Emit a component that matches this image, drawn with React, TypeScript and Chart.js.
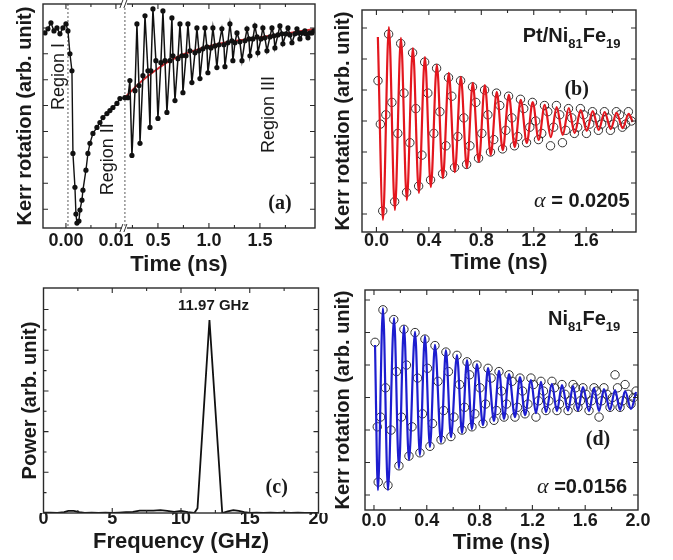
import { useEffect, useRef } from "react";
import { Chart, registerables } from "chart.js";

Chart.register(...registerables);

const W = 673;
const H = 560;
const SANS = "'Liberation Sans', Arial, Helvetica, sans-serif";
const SERIF = "'Liberation Serif', 'Times New Roman', serif";
const TICK_SIZE = 18;
const X_TITLE_SIZE = 22;
const Y_TITLE_SIZE = 20;
const INK = "#1a1a1a";

// ---------------- Panel (a) : broken time axis ----------------
// fast segment (Regions I & II), real time in ns
const A_FAST_T = [-0.0042, -0.0036, -0.003, -0.0024, -0.0018, -0.0012, -0.0006, 0.0, 0.0004, 0.0008, 0.0012, 0.0014, 0.0018, 0.002, 0.0022, 0.0026, 0.0028, 0.0032, 0.0034, 0.004, 0.0044, 0.0048, 0.0054, 0.0062, 0.0068, 0.0074, 0.0082, 0.0088, 0.0094, 0.0102, 0.0108, 0.0118];
const A_FAST_V = [87.1, 88.9, 91.6, 88.0, 89.3, 86.7, 89.3, 91.1, 88.0, 77.8, 70.2, 33.3, 18.2, 6.2, 2.2, 3.1, 8.0, 12.4, 16.9, 25.8, 33.3, 37.8, 42.2, 44.9, 47.1, 49.3, 51.1, 52.4, 53.8, 55.6, 57.8, 58.2];
// slow segment (Region III), time in ns
const A_SLOW_T = [0.206, 0.225, 0.245, 0.275, 0.294, 0.314, 0.324, 0.353, 0.373, 0.402, 0.422, 0.431, 0.451, 0.48, 0.5, 0.529, 0.549, 0.569, 0.588, 0.618, 0.637, 0.647, 0.667, 0.696, 0.716, 0.735, 0.745, 0.775, 0.794, 0.814, 0.833, 0.863, 0.882, 0.902, 0.912, 0.941, 0.961, 0.98, 0.99, 1.02, 1.039, 1.059, 1.078, 1.098, 1.127, 1.147, 1.157, 1.186, 1.206, 1.225, 1.235, 1.255, 1.275, 1.304, 1.324, 1.353, 1.373, 1.392, 1.402, 1.431, 1.451, 1.471, 1.48, 1.51, 1.529, 1.549, 1.569, 1.598, 1.618, 1.637, 1.647, 1.676, 1.696, 1.716, 1.725, 1.755, 1.775, 1.794, 1.814, 1.843, 1.863, 1.882, 1.892, 1.922, 1.941, 1.951, 1.971, 1.99, 2.01, 2.029];
const A_SLOW_V = [58.2, 65.8, 32.4, 61.3, 91.1, 63.6, 37.8, 68.0, 94.7, 70.2, 44.9, 70.2, 97.8, 74.7, 48.9, 73.8, 96.9, 74.7, 51.6, 74.7, 93.8, 76.9, 56.9, 75.6, 91.1, 76.9, 60.4, 76.9, 91.1, 79.1, 64.9, 78.2, 89.3, 79.1, 66.7, 80.0, 89.3, 80.9, 69.3, 80.4, 89.3, 81.3, 71.6, 81.8, 88.9, 81.8, 72.0, 82.7, 91.1, 83.6, 74.7, 82.7, 87.1, 83.1, 74.7, 83.6, 88.9, 84.4, 76.9, 84.4, 90.2, 85.3, 78.2, 84.4, 89.3, 84.9, 79.1, 85.3, 89.3, 85.8, 80.4, 86.2, 90.2, 86.7, 82.2, 86.7, 89.3, 86.2, 82.7, 86.7, 88.9, 87.1, 84.4, 87.1, 88.0, 86.7, 84.9, 87.1, 87.1, 88.0];
const A_FIT_T = [0.176, 0.324, 0.471, 0.618, 0.765, 0.912, 1.059, 1.206, 1.402, 1.598, 1.794, 2.039];
const A_FIT_V = [58.2, 64.9, 70.2, 74.7, 77.8, 80.0, 81.8, 83.1, 84.4, 85.8, 87.1, 88.9];
const A_FAST_TICKS = [0.0, 0.01];
const A_FAST_LABELS = ["0.00", "0.01"];
const A_FAST_MINOR = [0.005];
const A_SLOW_TICKS = [0.5, 1.0, 1.5];
const A_SLOW_LABELS = ["0.5", "1.0", "1.5"];
const A_SLOW_MINOR = [0.25, 0.75, 1.25, 1.75];
const A_Y_TICKS = [8.4, 20.0, 31.6, 43.1, 54.7, 66.2, 77.8, 89.3];
const A_PUMP_T = 0.0004;
const A_BREAK = 0.176; // axis position of the "//" break
const A_FAST_ORIGIN = -0.402; // axis position of fast-segment t = 0
const A_FAST_GAIN = 49.0; // axis units per ns in the fast segment
const fastToAxis = (t: number) => A_FAST_ORIGIN + t * A_FAST_GAIN;

// ---------------- Panel (b) : Pt/Ni81Fe19 ----------------
const B_FIT_T = [0.011, 0.05, 0.095, 0.141, 0.187, 0.232, 0.278, 0.324, 0.37, 0.415, 0.461, 0.507, 0.552, 0.598, 0.644, 0.69, 0.735, 0.781, 0.827, 0.872, 0.918, 0.964, 1.01, 1.055, 1.101, 1.147, 1.192, 1.238, 1.284, 1.33, 1.375, 1.421, 1.467, 1.512, 1.558, 1.604, 1.65, 1.695, 1.741, 1.787, 1.832, 1.878, 1.924, 1.954];
const B_FIT_V = [5.71, -0.19, 6.03, 0.13, 5.68, 0.45, 5.35, 0.68, 5.06, 0.87, 4.81, 1.16, 4.55, 1.35, 4.42, 1.48, 4.23, 1.68, 4.16, 1.9, 3.94, 2.06, 3.84, 2.16, 3.68, 2.29, 3.61, 2.39, 3.52, 2.48, 3.45, 2.55, 3.42, 2.61, 3.35, 2.68, 3.32, 2.71, 3.29, 2.74, 3.26, 2.77, 3.23, 2.97];
const B_DATA_T = [0.012, 0.03, 0.048, 0.072, 0.093, 0.118, 0.139, 0.163, 0.185, 0.21, 0.23, 0.255, 0.276, 0.3, 0.322, 0.347, 0.368, 0.392, 0.413, 0.438, 0.459, 0.484, 0.505, 0.53, 0.55, 0.575, 0.596, 0.621, 0.642, 0.667, 0.688, 0.713, 0.733, 0.758, 0.779, 0.804, 0.825, 0.85, 0.87, 0.895, 0.916, 0.941, 0.962, 0.987, 1.008, 1.033, 1.053, 1.078, 1.099, 1.124, 1.145, 1.17, 1.19, 1.215, 1.236, 1.261, 1.282, 1.307, 1.328, 1.352, 1.373, 1.398, 1.419, 1.444, 1.465, 1.49, 1.51, 1.535, 1.556, 1.581, 1.602, 1.627, 1.648, 1.673, 1.693, 1.718, 1.739, 1.764, 1.785, 1.81, 1.83, 1.855, 1.876, 1.9, 1.922, 1.945];
const B_DATA_V = [4.3, 2.9, 0.1, 3.2, 5.8, 3.6, 0.4, 2.6, 5.5, 3.9, 0.7, 2.3, 5.2, 3.4, 0.9, 1.9, 4.9, 3.9, 1.1, 2.6, 4.7, 3.3, 1.3, 2.2, 4.4, 3.8, 1.5, 2.5, 4.3, 3.1, 1.6, 2.2, 4.1, 3.6, 1.8, 2.6, 4.0, 3.2, 2.0, 2.4, 3.9, 3.5, 2.1, 2.7, 3.8, 3.1, 2.2, 2.5, 3.7, 3.4, 2.3, 2.8, 3.6, 3.0, 2.4, 2.6, 3.5, 3.3, 2.2, 2.8, 3.5, 3.2, 2.3, 2.7, 3.4, 3.1, 2.6, 2.8, 3.4, 3.2, 2.6, 2.9, 3.3, 3.1, 2.7, 2.9, 3.3, 3.1, 2.7, 2.9, 3.3, 3.2, 2.8, 2.9, 3.3, 3.0];
const B_X_TICKS = [0, 0.4, 0.8, 1.2, 1.6];
const B_X_LABELS = ["0.0", "0.4", "0.8", "1.2", "1.6"];
const B_X_MINOR = [0.2, 0.6, 1.0, 1.4, 1.8];
const B_Y_TICKS = [0, 1, 2, 3, 4, 5, 6];

// ---------------- Panel (c) : FFT power spectrum ----------------
const C_FREQ = [0, 0.5, 1.0, 1.5, 1.8, 2.2, 2.6, 3.0, 3.5, 4.0, 4.5, 5.0, 5.5, 6.0, 6.5, 7.0, 7.5, 8.0, 8.5, 9.0, 9.5, 10.0, 10.5, 10.97, 11.2, 12.07, 13.0, 13.4, 13.8, 14.2, 14.6, 15.0, 15.5, 16.0, 16.5, 17.0, 17.5, 18.0, 18.5, 19.0, 19.5, 20.0];
const C_POWER = [0.01, 0.01, 0.0, 0.02, 0.05, 0.05, 0.02, 0.0, 0.01, 0.0, 0.01, 0.0, 0.01, 0.02, 0.03, 0.06, 0.06, 0.06, 0.07, 0.05, 0.03, 0.05, 0.02, 0.0, 0.12, 4.74, 0.0, 0.04, 0.07, 0.05, 0.02, 0.0, 0.01, 0.0, 0.01, 0.0, 0.01, 0.0, 0.01, 0.0, 0.0, 0.0];
const C_X_TICKS = [0, 5, 10, 15, 20];
const C_X_LABELS = ["0", "5", "10", "15", "20"];
const C_X_MINOR = [2.5, 7.5, 12.5, 17.5];
const C_Y_TICKS = [1, 2, 3, 4, 5];
const C_Y_MINOR = [0.5, 1.5, 2.5, 3.5, 4.5];
const C_PEAK_LABEL = "11.97 GHz";

// ---------------- Panel (d) : Ni81Fe19 ----------------
const D_FIT_T = [0.008, 0.03, 0.068, 0.106, 0.152, 0.189, 0.227, 0.265, 0.311, 0.348, 0.386, 0.424, 0.462, 0.508, 0.545, 0.583, 0.629, 0.667, 0.705, 0.742, 0.78, 0.826, 0.864, 0.909, 0.947, 0.985, 1.023, 1.068, 1.106, 1.144, 1.189, 1.227, 1.265, 1.303, 1.348, 1.386, 1.424, 1.47, 1.508, 1.545, 1.583, 1.629, 1.667, 1.705, 1.742, 1.788, 1.826, 1.864, 1.902, 1.947, 1.985];
const D_FIT_V = [4.62, 0.15, 5.75, 0.15, 5.45, 0.83, 5.2, 1.08, 5.02, 1.23, 4.89, 1.48, 4.62, 1.63, 4.46, 1.78, 4.31, 1.91, 4.15, 2.03, 4.03, 2.15, 3.91, 2.28, 3.82, 2.34, 3.72, 2.4, 3.63, 2.46, 3.54, 2.52, 3.48, 2.55, 3.42, 2.58, 3.38, 2.6, 3.35, 2.6, 3.32, 2.58, 3.29, 2.58, 3.26, 2.62, 3.23, 2.62, 3.2, 2.65, 3.17];
const D_DATA_T = [0.008, 0.025, 0.032, 0.05, 0.068, 0.087, 0.106, 0.129, 0.15, 0.17, 0.189, 0.208, 0.227, 0.246, 0.265, 0.288, 0.311, 0.33, 0.348, 0.367, 0.386, 0.405, 0.424, 0.443, 0.462, 0.485, 0.508, 0.527, 0.545, 0.564, 0.583, 0.606, 0.629, 0.648, 0.667, 0.686, 0.705, 0.724, 0.742, 0.764, 0.78, 0.803, 0.826, 0.845, 0.864, 0.887, 0.909, 0.928, 0.947, 0.966, 0.985, 1.004, 1.023, 1.046, 1.068, 1.087, 1.106, 1.125, 1.144, 1.166, 1.189, 1.208, 1.227, 1.246, 1.265, 1.284, 1.303, 1.325, 1.348, 1.367, 1.386, 1.405, 1.424, 1.447, 1.47, 1.489, 1.508, 1.527, 1.545, 1.564, 1.583, 1.606, 1.629, 1.648, 1.667, 1.686, 1.705, 1.724, 1.742, 1.765, 1.788, 1.807, 1.826, 1.845, 1.864, 1.883, 1.902, 1.925, 1.947, 1.966, 1.985];
const D_DATA_V = [4.7, 2.1, 0.4, 2.4, 5.7, 3.3, 0.3, 2.0, 5.4, 3.8, 0.9, 2.4, 5.1, 4.0, 1.2, 2.1, 5.0, 3.6, 1.3, 2.5, 4.8, 3.9, 1.5, 2.2, 4.6, 3.5, 1.7, 2.6, 4.4, 3.8, 1.8, 2.4, 4.3, 3.4, 2.0, 2.7, 4.1, 3.7, 2.1, 2.5, 4.0, 3.3, 2.2, 2.8, 3.9, 3.6, 2.3, 2.6, 3.8, 3.2, 2.4, 2.8, 3.7, 3.5, 2.4, 2.7, 3.6, 3.2, 2.5, 2.8, 3.6, 3.4, 2.4, 2.9, 3.5, 3.2, 2.6, 2.9, 3.5, 3.3, 2.6, 2.8, 3.4, 3.1, 2.6, 2.9, 3.4, 3.3, 2.7, 2.9, 3.3, 3.1, 2.6, 2.9, 3.3, 3.2, 2.4, 2.9, 3.3, 3.1, 2.7, 3.0, 3.7, 3.3, 2.7, 2.9, 3.4, 3.1, 2.8, 3.0, 3.2];
const D_X_TICKS = [0, 0.4, 0.8, 1.2, 1.6, 2.0];
const D_X_LABELS = ["0.0", "0.4", "0.8", "1.2", "1.6", "2.0"];
const D_X_MINOR = [0.2, 0.6, 1.0, 1.4, 1.8];
const D_Y_TICKS = [0, 1, 2, 3, 4, 5, 6];

const KERR_TITLE = "Kerr rotation (arb. unit)";
const TIME_TITLE = "Time (ns)";

// ---------------- helpers ----------------
const pts = (xs: number[], ys: number[], fx: (v: number) => number = (v) => v) =>
  xs.map((x, i) => ({ x: fx(x), y: ys[i] }));

function framePlugin(xMinor: number[], yMinor: number[]) {
  return {
    id: "frame",
    afterDatasetsDraw(chart: any) {
      const { ctx, chartArea: a } = chart;
      const xs = chart.scales.x;
      const ys = chart.scales.y;
      ctx.save();
      ctx.strokeStyle = "#2a2a2a";
      ctx.lineWidth = 1.1;
      ctx.beginPath();
      const xt = (vals: number[], len: number) =>
        vals.forEach((v) => {
          const p = xs.getPixelForValue(v);
          if (p <= a.left + 1 || p >= a.right - 1) return;
          ctx.moveTo(p, a.bottom);
          ctx.lineTo(p, a.bottom - len);
          ctx.moveTo(p, a.top);
          ctx.lineTo(p, a.top + len);
        });
      const yt = (vals: number[], len: number) =>
        vals.forEach((v) => {
          const p = ys.getPixelForValue(v);
          if (p <= a.top + 1 || p >= a.bottom - 1) return;
          ctx.moveTo(a.left, p);
          ctx.lineTo(a.left + len, p);
          ctx.moveTo(a.right, p);
          ctx.lineTo(a.right - len, p);
        });
      xt(xs.ticks.map((t: any) => t.value), 5);
      xt(xMinor, 3);
      yt(ys.ticks.map((t: any) => t.value), 5);
      yt(yMinor, 3);
      ctx.stroke();
      ctx.lineWidth = 1.4;
      ctx.strokeRect(a.left, a.top, a.right - a.left, a.bottom - a.top);
      ctx.restore();
    },
  };
}

type Part = { text: string; font: string; dy?: number };
type Note = { x: number; y: number; parts: Part[]; align?: string; baseline?: string; rotate?: number };

function notesPlugin(notes: Note[]) {
  return {
    id: "notes",
    afterDraw(chart: any) {
      const { ctx } = chart;
      const xs = chart.scales.x;
      const ys = chart.scales.y;
      notes.forEach((n) => {
        ctx.save();
        ctx.translate(xs.getPixelForValue(n.x), ys.getPixelForValue(n.y));
        if (n.rotate) ctx.rotate((n.rotate * Math.PI) / 180);
        ctx.textBaseline = n.baseline || "middle";
        ctx.textAlign = "left";
        ctx.fillStyle = INK;
        const widths = n.parts.map((p) => {
          ctx.font = p.font;
          return ctx.measureText(p.text).width;
        });
        const total = widths.reduce((s, w) => s + w, 0);
        let cx = n.align === "left" ? 0 : n.align === "right" ? -total : -total / 2;
        n.parts.forEach((p, i) => {
          ctx.font = p.font;
          ctx.fillText(p.text, cx, p.dy || 0);
          cx += widths[i];
        });
        ctx.restore();
      });
    },
  };
}

function breakPlugin(dotted: number[], brk: number) {
  return {
    id: "breaks",
    beforeDatasetsDraw(chart: any) {
      const { ctx, chartArea: a } = chart;
      const xs = chart.scales.x;
      ctx.save();
      ctx.strokeStyle = "#777";
      ctx.lineWidth = 1.2;
      ctx.setLineDash([2, 2]);
      dotted.forEach((v) => {
        const p = xs.getPixelForValue(v);
        ctx.beginPath();
        ctx.moveTo(p, a.top);
        ctx.lineTo(p, a.bottom);
        ctx.stroke();
      });
      ctx.restore();
    },
    afterDraw(chart: any) {
      const { ctx, chartArea: a } = chart;
      const p = chart.scales.x.getPixelForValue(brk);
      ctx.save();
      [a.top, a.bottom].forEach((y: number) => {
        ctx.fillStyle = "#fff";
        ctx.fillRect(p - 3, y - 2, 5, 4);
        ctx.strokeStyle = "#333";
        ctx.lineWidth = 1;
        ctx.beginPath();
        ctx.moveTo(p - 5, y + 4);
        ctx.lineTo(p - 2, y - 4);
        ctx.moveTo(p - 1, y + 4);
        ctx.lineTo(p + 2, y - 4);
        ctx.stroke();
      });
      ctx.restore();
    },
  };
}

type Spec = {
  area: { left: number; top: number; right: number; bottom: number };
  yTitleX: number;
  tickLabelY: number;
  xTitleY: number;
  x: { min: number; max: number; ticks: number[]; labels: string[]; minor: number[]; title: string };
  y: { min: number; max: number; ticks: number[]; minor: number[]; title: string };
  datasets: any[];
  plugins: any[];
};

function makeConfig(s: Spec): any {
  const padLeft = s.yTitleX - Y_TITLE_SIZE * 0.6;
  const yWidth = s.area.left - padLeft;
  const tickPad = s.tickLabelY - s.area.bottom - TICK_SIZE * 0.6;
  const xHeight = s.xTitleY + X_TITLE_SIZE * 0.6 - s.area.bottom;
  return {
    type: "line",
    data: { datasets: s.datasets },
    options: {
      responsive: false,
      animation: false,
      events: [],
      layout: {
        padding: {
          left: padLeft,
          top: s.area.top,
          right: W - s.area.right,
          bottom: H - s.area.bottom - xHeight,
        },
      },
      plugins: { legend: { display: false }, tooltip: { enabled: false }, title: { display: false } },
      scales: {
        x: {
          type: "linear",
          position: "bottom",
          min: s.x.min,
          max: s.x.max,
          afterBuildTicks: (sc: any) => {
            sc.ticks = s.x.ticks.map((v) => ({ value: v }));
          },
          afterFit: (sc: any) => {
            sc.height = xHeight;
          },
          grid: { display: false, drawTicks: false },
          border: { display: false },
          ticks: {
            autoSkip: false,
            maxRotation: 0,
            padding: tickPad,
            color: INK,
            font: { family: SANS, size: TICK_SIZE, weight: "bold" },
            callback: (_v: any, i: number) => s.x.labels[i],
          },
          title: {
            display: true,
            text: s.x.title,
            color: INK,
            padding: 0,
            font: { family: SANS, size: X_TITLE_SIZE, weight: "bold" },
          },
        },
        y: {
          type: "linear",
          position: "left",
          min: s.y.min,
          max: s.y.max,
          afterBuildTicks: (sc: any) => {
            sc.ticks = s.y.ticks.map((v) => ({ value: v }));
          },
          afterFit: (sc: any) => {
            sc.width = yWidth;
          },
          grid: { display: false, drawTicks: false },
          border: { display: false },
          ticks: { display: false },
          title: {
            display: true,
            text: s.y.title,
            color: INK,
            padding: 0,
            font: { family: SANS, size: Y_TITLE_SIZE, weight: "bold" },
          },
        },
      },
    },
    plugins: [...s.plugins.filter((p) => p.id === "breaks"), framePlugin(s.x.minor, s.y.minor), ...s.plugins.filter((p) => p.id !== "breaks")],
  };
}

const circleStyle = {
  showLine: false,
  pointRadius: 4.2,
  pointBorderWidth: 1,
  pointBorderColor: "#303030",
  pointBackgroundColor: "rgba(0,0,0,0)",
};

const configA = () =>
  makeConfig({
    area: { left: 43, top: 3, right: 315, bottom: 228 },
    yTitleX: 25,
    tickLabelY: 241,
    xTitleY: 265,
    x: {
      min: -0.627,
      max: 2.04,
      ticks: [...A_FAST_TICKS.map(fastToAxis), ...A_SLOW_TICKS],
      labels: [...A_FAST_LABELS, ...A_SLOW_LABELS],
      minor: [...A_FAST_MINOR.map(fastToAxis), ...A_SLOW_MINOR],
      title: TIME_TITLE,
    },
    y: { min: 0, max: 100, ticks: A_Y_TICKS, minor: [], title: KERR_TITLE },
    datasets: [
      {
        data: pts(A_FAST_T, A_FAST_V, fastToAxis),
        borderColor: "#111",
        borderWidth: 1.4,
        pointRadius: 2.6,
        pointBackgroundColor: "#111",
        pointBorderWidth: 0,
        tension: 0,
      },
      {
        data: pts(A_SLOW_T, A_SLOW_V),
        borderColor: "#111",
        borderWidth: 1.5,
        pointRadius: 2.6,
        pointBackgroundColor: "#111",
        pointBorderWidth: 0,
        tension: 0,
      },
      {
        data: pts(A_FIT_T, A_FIT_V),
        borderColor: "#d8262c",
        borderWidth: 2,
        pointRadius: 0,
        cubicInterpolationMode: "monotone",
      },
    ],
    plugins: [
      breakPlugin([fastToAxis(A_PUMP_T), A_BREAK], A_BREAK),
      notesPlugin([
        { x: -0.47, y: 67.6, rotate: -90, parts: [{ text: "Region I", font: `18px ${SANS}` }] },
        { x: 0.01, y: 30.7, rotate: -90, parts: [{ text: "Region II", font: `18px ${SANS}` }] },
        { x: 1.588, y: 50.7, rotate: -90, parts: [{ text: "Region III", font: `18px ${SANS}` }] },
        { x: 1.696, y: 10.7, parts: [{ text: "(a)", font: `bold 20px ${SERIF}` }] },
      ]),
    ],
  });

const configB = () =>
  makeConfig({
    area: { left: 362, top: 10, right: 636, bottom: 232 },
    yTitleX: 343,
    tickLabelY: 241,
    xTitleY: 263,
    x: { min: -0.11, max: 1.98, ticks: B_X_TICKS, labels: B_X_LABELS, minor: B_X_MINOR, title: TIME_TITLE },
    y: { min: -0.58, max: 6.58, ticks: B_Y_TICKS, minor: [], title: KERR_TITLE },
    datasets: [
      {
        data: pts(B_FIT_T, B_FIT_V),
        borderColor: "#e3161e",
        borderWidth: 2.2,
        pointRadius: 0,
        cubicInterpolationMode: "monotone",
      },
      { data: pts(B_DATA_T, B_DATA_V), ...circleStyle },
    ],
    plugins: [
      notesPlugin([
        {
          x: 1.116,
          y: 5.55,
          align: "left",
          baseline: "alphabetic",
          parts: [
            { text: "Pt/Ni", font: `bold 20px ${SANS}` },
            { text: "81", font: `bold 13px ${SANS}`, dy: 6 },
            { text: "Fe", font: `bold 20px ${SANS}` },
            { text: "19", font: `bold 13px ${SANS}`, dy: 6 },
          ],
        },
        { x: 1.527, y: 4.0, parts: [{ text: "(b)", font: `bold 20px ${SERIF}` }] },
        {
          x: 1.931,
          y: 0.23,
          align: "right",
          baseline: "alphabetic",
          parts: [
            { text: "α", font: `italic 22px ${SERIF}` },
            { text: " = 0.0205", font: `bold 20px ${SANS}` },
          ],
        },
      ]),
    ],
  });

const configC = () =>
  makeConfig({
    area: { left: 43.5, top: 288, right: 318.5, bottom: 513 },
    yTitleX: 30,
    tickLabelY: 519,
    xTitleY: 542,
    x: { min: 0, max: 20, ticks: C_X_TICKS, labels: C_X_LABELS, minor: C_X_MINOR, title: "Frequency (GHz)" },
    y: { min: 0, max: 5.53, ticks: C_Y_TICKS, minor: C_Y_MINOR, title: "Power (arb. unit)" },
    datasets: [
      {
        data: pts(C_FREQ, C_POWER),
        borderColor: "#111",
        borderWidth: 1.8,
        pointRadius: 0,
        tension: 0,
      },
    ],
    plugins: [
      notesPlugin([
        { x: 12.36, y: 5.09, parts: [{ text: C_PEAK_LABEL, font: `bold 15px ${SANS}` }] },
        { x: 16.96, y: 0.61, parts: [{ text: "(c)", font: `bold 20px ${SERIF}` }] },
      ]),
    ],
  });

const configD = () =>
  makeConfig({
    area: { left: 365, top: 290, right: 638, bottom: 510 },
    yTitleX: 343,
    tickLabelY: 521,
    xTitleY: 543,
    x: { min: -0.068, max: 2.0, ticks: D_X_TICKS, labels: D_X_LABELS, minor: D_X_MINOR, title: TIME_TITLE },
    y: { min: -0.46, max: 6.31, ticks: D_Y_TICKS, minor: [], title: KERR_TITLE },
    datasets: [
      {
        data: pts(D_FIT_T, D_FIT_V),
        borderColor: "#1d1dcf",
        borderWidth: 2.2,
        pointRadius: 0,
        cubicInterpolationMode: "monotone",
      },
      { data: pts(D_DATA_T, D_DATA_V), ...circleStyle },
    ],
    plugins: [
      notesPlugin([
        {
          x: 1.318,
          y: 5.23,
          align: "left",
          baseline: "alphabetic",
          parts: [
            { text: "Ni", font: `bold 20px ${SANS}` },
            { text: "81", font: `bold 13px ${SANS}`, dy: 6 },
            { text: "Fe", font: `bold 20px ${SANS}` },
            { text: "19", font: `bold 13px ${SANS}`, dy: 6 },
          ],
        },
        { x: 1.697, y: 1.69, parts: [{ text: "(d)", font: `bold 20px ${SERIF}` }] },
        {
          x: 1.917,
          y: 0.06,
          align: "right",
          baseline: "alphabetic",
          parts: [
            { text: "α", font: `italic 22px ${SERIF}` },
            { text: " =0.0156", font: `bold 20px ${SANS}` },
          ],
        },
      ]),
    ],
  });

function ChartCanvas({ make }: { make: () => any }) {
  const ref = useRef<HTMLCanvasElement | null>(null);
  useEffect(() => {
    const chart = new Chart(ref.current as HTMLCanvasElement, make());
    return () => chart.destroy();
  }, [make]);
  return (
    <canvas
      ref={ref}
      width={W}
      height={H}
      style={{ position: "absolute", left: 0, top: 0, width: W + "px", height: H + "px" }}
    />
  );
}

export default function App() {
  return (
    <div
      style={{
        position: "absolute",
        left: 0,
        top: 0,
        width: W + "px",
        height: H + "px",
        background: "#fff",
        overflow: "hidden",
      }}
    >
      <ChartCanvas make={configA} />
      <ChartCanvas make={configB} />
      <ChartCanvas make={configC} />
      <ChartCanvas make={configD} />
    </div>
  );
}
